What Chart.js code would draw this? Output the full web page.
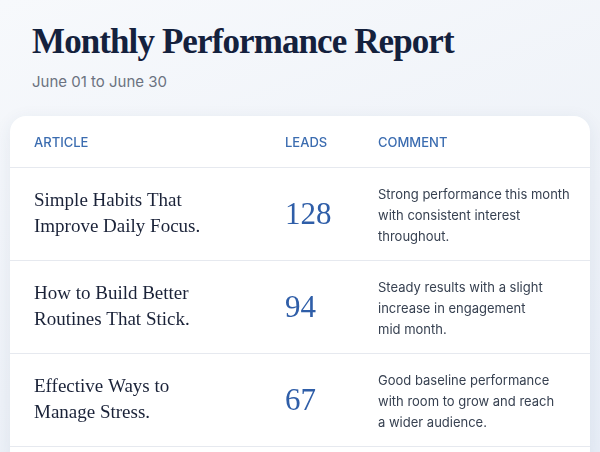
<!DOCTYPE html>
<html>
<head>
<meta charset="utf-8">
<script src="https://cdn.jsdelivr.net/npm/chart.js@4"></script>
<style>
  body { margin: 0; width: 600px; height: 452px; overflow: hidden;
         background: linear-gradient(160deg, #f7f9fc 0%, #eef2f8 60%, #e8eef7 100%);
         font-family: "Inter", "Noto Sans", sans-serif; position: relative; }
  h1 { position: absolute; left: 32px; top: 22px; margin: 0; font-family: "Liberation Serif", serif;
       font-weight: bold; font-size: 35px; color: #14213d; letter-spacing: -0.9px; }
  .sub { position: absolute; left: 32px; top: 72px; font-size: 15px; color: #6b7280; }
  .card { position: absolute; left: 10px; top: 116px; width: 580px; height: 350px; background: #fff;
          border-radius: 16px; box-shadow: 0 4px 18px rgba(40,60,100,0.08); }
  canvas { position: absolute; left: 0; top: 0; }
</style>
</head>
<body>
<h1>Monthly Performance Report</h1>
<div class="sub">June 01 to June 30</div>
<div class="card"><canvas id="tableChart" width="580" height="350"></canvas></div>
<script>
const headers = ['ARTICLE', 'LEADS', 'COMMENT'];
const articles = [
  ['Simple Habits That', 'Improve Daily Focus.'],
  ['How to Build Better', 'Routines That Stick.'],
  ['Effective Ways to', 'Manage Stress.']
];
const leads = [128, 94, 67];
const comments = [
  ['Strong performance this month', 'with consistent interest', 'throughout.'],
  ['Steady results with a slight', 'increase in engagement', 'mid month.'],
  ['Good baseline performance', 'with room to grow and reach', 'a wider audience.']
];
const columnX = [24, 275, 368];

// draws the table cells at scale positions
const tablePlugin = {
  id: 'tableCells',
  afterDraw(chart) {
    const c = chart.ctx, xs = chart.scales.x, ys = chart.scales.y;
    const top = chart.chartArea.top;
    c.save();
    c.textBaseline = 'middle';
    c.font = '500 13px Inter, "Noto Sans", sans-serif';
    c.fillStyle = '#3b6cb0';
    headers.forEach((h, i) => c.fillText(h, xs.getPixelForValue(columnX[i]), top - 24));
    c.strokeStyle = '#e6e9ef'; c.lineWidth = 1;
    for (let i = 0; i <= leads.length; i++) {
      const y = Math.round(ys.getPixelForValue(i - 0.5)) + 0.5;
      c.beginPath(); c.moveTo(0, y); c.lineTo(chart.width, y); c.stroke();
    }
    leads.forEach((v, i) => {
      const yc = ys.getPixelForValue(i);
      c.fillStyle = '#1a2238';
      c.font = '19px "Liberation Serif", serif';
      articles[i].forEach((t, k) => c.fillText(t, xs.getPixelForValue(columnX[0]), yc - 12 + k * 26));
      c.fillStyle = '#2f5ea8';
      c.font = '31px "Liberation Serif", serif';
      c.fillText(String(v), xs.getPixelForValue(columnX[1]), yc + 2);
      c.fillStyle = '#374151';
      c.font = '13px Inter, "Noto Sans", sans-serif';
      comments[i].forEach((t, k) => c.fillText(t, xs.getPixelForValue(columnX[2]), yc - 18 + k * 21));
    });
    c.restore();
  }
};

new Chart(document.getElementById('tableChart').getContext('2d'), {
  type: 'scatter',
  data: { datasets: [{ data: leads.map((v, i) => ({ x: columnX[1], y: i })), pointRadius: 0 }] },
  options: {
    responsive: false, animation: false,
    layout: { padding: { top: 51, bottom: 20, left: 0, right: 0 } },
    plugins: { legend: { display: false }, tooltip: { enabled: false } },
    scales: {
      x: { type: 'linear', min: 0, max: 580, display: false },
      y: { type: 'linear', min: -0.5, max: 2.5, reverse: true, display: false }
    }
  },
  plugins: [tablePlugin]
});
</script>
</body>
</html>
